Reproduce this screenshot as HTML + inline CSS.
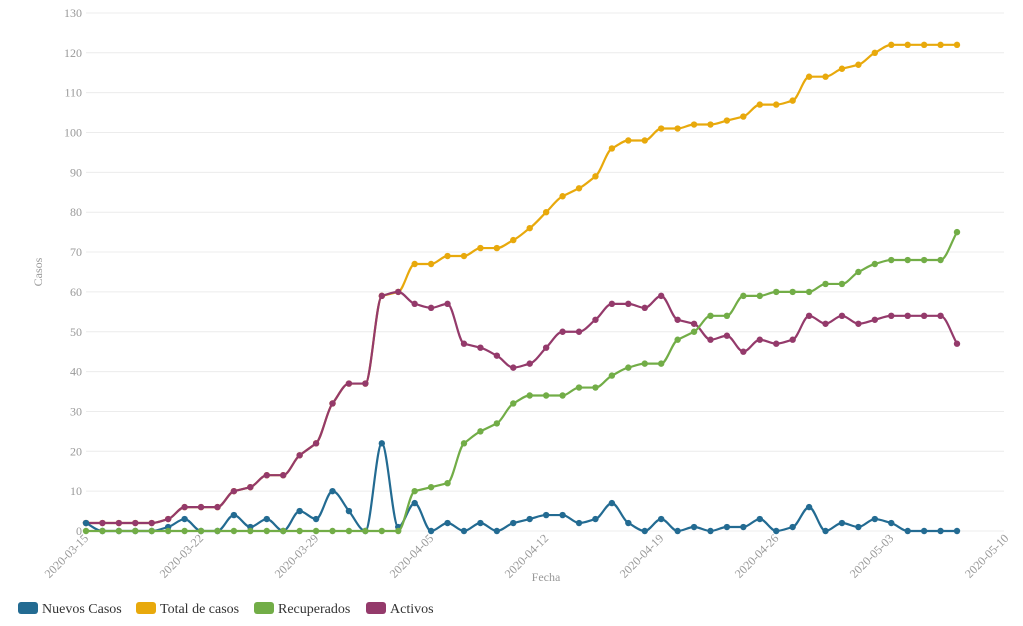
<!DOCTYPE html>
<html><head><meta charset="utf-8"><style>
body{margin:0;background:#fff;width:1023px;height:626px;overflow:hidden}
svg{display:block}
text{font-family:"Liberation Serif",serif}
</style></head><body>
<svg id="c" width="1023" height="626" xmlns="http://www.w3.org/2000/svg"></svg>
<script>
var act=[2,2,2,2,2,3,6,6,6,10,11,14,14,19,22,32,37,37,59,60,57,56,57,47,46,44,41,42,46,50,50,53,57,57,56,59,53,52,48,49,45,48,47,48,54,52,54,52,53,54,54,54,54,47];
var rec=[];for(var i=0;i<54;i++)rec.push(0);
var r2=[10,11,12,22,25,27,32,34,34,34,36,36,39,41,42,42,48,50,54,54,59,59,60,60,60,62,62,65,67,68,68,68,68,75];
for(i=0;i<r2.length;i++)rec[20+i]=r2[i];
var tot=[];for(i=0;i<54;i++)tot.push(i<20?act[i]:act[i]+rec[i]);
var nue=[2,0,0,0,0,1,3,0,0,4,1,3,0,5,3,10,5,0,22,1,7,0,2,0,2,0,2,3,4,4,2,3,7,2,0,3,0,1,0,1,1,3,0,1,6,0,2,1,3,2,0,0,0,0];
var H=16.434;
function X(i){return 86+i*H}
function Y(v){return 531-v*3.985}
var s='';
for(var v=0;v<=130;v+=10){var y=Y(v);s+='<line x1="86" x2="1004" y1="'+y+'" y2="'+y+'" stroke="#ececec" stroke-width="1"/>';
s+='<text x="82" y="'+(y+4)+'" font-size="12" fill="#999" text-anchor="end">'+v+'</text>';}
var d=['2020-03-15','2020-03-22','2020-03-29','2020-04-05','2020-04-12','2020-04-19','2020-04-26','2020-05-03','2020-05-10'];
for(i=0;i<9;i++){var x=X(i*7);s+='<text transform="translate('+(x+3)+',539) rotate(-45)" font-size="12" fill="#999" text-anchor="end">'+d[i]+'</text>';}
s+='<text transform="translate(42,272) rotate(-90)" font-size="12" fill="#999" text-anchor="middle">Casos</text>';
s+='<text x="546" y="581" font-size="12" fill="#999" text-anchor="middle">Fecha</text>';
function path(a){var n=a.length,y=a.map(Y),m=[],dl=[];
for(var i=0;i<n-1;i++)dl.push((y[i+1]-y[i])/H);
for(i=0;i<n;i++){if(i==0)m.push(dl[0]);else if(i==n-1)m.push(dl[n-2]);else{var a0=dl[i-1],a1=dl[i];
if(a0*a1<=0)m.push(0);else{var p=(a0+a1)/2;m.push((a0>0?1:-1)*Math.min(Math.abs(a0),Math.abs(a1),Math.abs(p))*Math.min(1,2)*1)}}}
// endpoints
var str='M'+X(0)+','+y[0];
for(i=0;i<n-1;i++){var h=H/3;str+=' C'+(X(i)+h)+','+(y[i]+m[i]*h)+' '+(X(i+1)-h)+','+(y[i+1]-m[i+1]*h)+' '+X(i+1)+','+y[i+1];}
return str}
function ser(a,c){var o='<path d="'+path(a)+'" fill="none" stroke="'+c+'" stroke-width="2.2"/>';
a.forEach(function(v,i){o+='<circle cx="'+X(i)+'" cy="'+Y(v)+'" r="3.2" fill="'+c+'"/>'});return o}
s+=ser(tot,'#e8a90c')+ser(act,'#943a6b')+ser(nue,'#236b92')+ser(rec,'#72ad47');
var L=[['Nuevos Casos','#236b92',18],['Total de casos','#e8a90c',136],['Recuperados','#72ad47',254],['Activos','#943a6b',366]];
L.forEach(function(l){s+='<rect x="'+l[2]+'" y="602" width="20" height="12" rx="3" fill="'+l[1]+'"/><text x="'+(l[2]+24)+'" y="613" font-size="14" fill="#333">'+l[0]+'</text>'});
document.getElementById('c').innerHTML=s;
</script>
</body></html>
